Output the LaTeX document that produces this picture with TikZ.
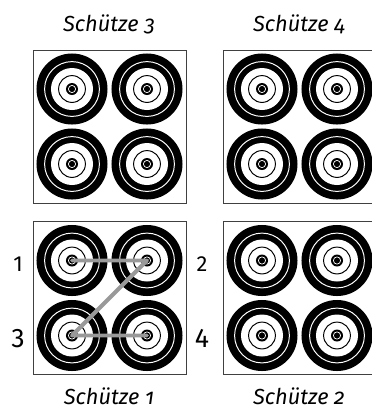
\documentclass[tikz,border=0pt]{standalone}
\usepackage{fontspec}
\setmainfont{Fira Sans}
\newfontfamily\capfont[Numbers=OldStyle]{Fira Sans}
\usepackage{xcolor}

\begin{document}
\begin{tikzpicture}[
    x=0.025cm, y=-0.025cm,    % 1 unit = 1 px, y downwards
    frame/.style = {
        rectangle, draw = black!75, line width = 0.6pt,
        minimum size = 3.825cm, inner sep = 0pt
    },
    target/.style = {
        circle, fill = black, minimum size = 1.775cm, inner sep = 0pt,
        path picture = {
            \coordinate (c) at (path picture bounding box.center);
            \draw[white, line width = 0.7pt] (c) circle[radius = 0.685cm];
            \fill[white] (c) circle[radius = 0.525cm];
            \draw[black, line width = 0.7pt] (c) circle[radius = 0.335cm];
            \fill[black] (c) circle[radius = 0.15cm];
            \draw[white, line width = 0.5pt] (c) circle[radius = 0.09cm];
            \fill[black] (c) circle[radius = 0.035cm];
        }
    },
    caption/.style = {anchor = base, font = \capfont\itshape\fontsize{15.5}{18}\selectfont},
    num/.style = {anchor = base, font = \fontsize{15.5}{18}\selectfont},
    bignum/.style = {anchor = base, font = \fontsize{19}{22}\selectfont},
    shotline/.style = {draw = black!40, line width = 2.8pt, line cap = round, line join = round}
]
\useasboundingbox (0,0) rectangle (371,410);

% --- Boxes ---
\node[frame] (box3) at (109.5, 126.5) {};
\node[frame] (box4) at (299.5, 126.5) {};
\node[frame] (box1) at (109.5, 298)   {};
\node[frame] (box2) at (299.5, 298)   {};

% --- Targets, Schuetze 3 ---
\node[target] (s3a) at ( 72,  89) {};
\node[target] (s3b) at (147,  89) {};
\node[target] (s3c) at ( 72, 164) {};
\node[target] (s3d) at (147, 164) {};

% --- Targets, Schuetze 4 ---
\node[target] (s4a) at (262,  89) {};
\node[target] (s4b) at (337,  89) {};
\node[target] (s4c) at (262, 164) {};
\node[target] (s4d) at (337, 164) {};

% --- Targets, Schuetze 1 ---
\node[target] (s1a) at ( 72, 260.5) {};
\node[target] (s1b) at (147, 260.5) {};
\node[target] (s1c) at ( 72, 335.5) {};
\node[target] (s1d) at (147, 335.5) {};

% --- Targets, Schuetze 2 ---
\node[target] (s2a) at (262, 260.5) {};
\node[target] (s2b) at (337, 260.5) {};
\node[target] (s2c) at (262, 335.5) {};
\node[target] (s2d) at (337, 335.5) {};

% --- Shooting order ---
\draw[shotline] (s1a.center) -- (s1b.center) -- (s1c.center) -- (s1d.center);

% --- Order numbers ---
\node[num]    (n1) at ( 18, 271) {1};
\node[num]    (n2) at (202, 271) {2};
\node[bignum] (n3) at ( 18, 347) {3};
\node[bignum] (n4) at (202, 347) {4};

% --- Captions ---
\node[caption] (cap3) at (109, 31)  {Schütze 3};
\node[caption] (cap4) at (299, 31)  {Schütze 4};
\node[caption] (cap1) at (109, 404) {Schütze 1};
\node[caption] (cap2) at (299, 404) {Schütze 2};

\end{tikzpicture}
\end{document}
